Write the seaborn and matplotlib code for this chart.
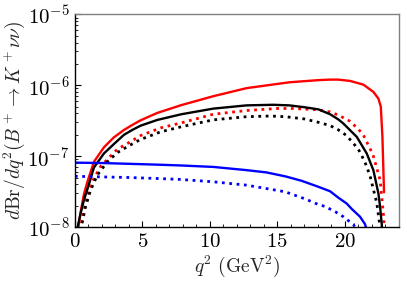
import matplotlib
matplotlib.use("Agg")
import matplotlib.pyplot as plt
from matplotlib.ticker import MultipleLocator
import seaborn as sns
import pandas as pd

# values (q^2 in GeV^2, dBr/dq^2)
red_q2 = [0.22, 0.42, 0.67, 0.92, 1.41, 2.15, 2.89, 3.64, 4.25, 4.87, 6.11, 7.9,
          10.26, 12.73, 15.9, 18.05, 18.92, 19.53, 20.4, 21.39, 22.13, 22.5,
          22.68, 22.8, 22.92]
red_br = [9e-9, 1.6e-8, 2.9e-8, 4.3e-8, 8.3e-8, 1.33e-7, 1.84e-7, 2.34e-7, 2.75e-7,
          3.2e-7, 4.07e-7, 5.25e-7, 7.0e-7, 9.1e-7, 1.1e-6, 1.18e-6, 1.2e-6,
          1.2e-6, 1.15e-6, 1.02e-6, 8.05e-7, 6.5e-7, 5.0e-7, 1.9e-7, 3.1e-8]

red_dot_q2 = [0.37, 0.92, 1.4, 1.9, 2.4, 3.14, 4.0, 4.87, 6.35, 7.9, 10.26, 12.73,
              15.0, 16.2, 18.05, 18.92, 19.53, 20.4, 21.02, 21.39, 22.0, 22.13,
              22.63, 22.87, 22.95]
red_dot_br = [9e-9, 2.8e-8, 4.8e-8, 7.1e-8, 9e-8, 1.25e-7, 1.55e-7, 1.95e-7, 2.5e-7,
              2.95e-7, 3.9e-7, 4.4e-7, 4.7e-7, 4.7e-7, 4.5e-7, 4.2e-7, 3.8e-7,
              3.1e-7, 2.4e-7, 1.98e-7, 1.15e-7, 1.0e-7, 4.6e-8, 1.55e-8, 9e-9]

black_q2 = [0.15, 0.42, 0.67, 1.04, 1.41, 2.15, 2.89, 3.64, 4.25, 4.87, 6.11, 7.9,
            10.26, 12.73, 14.71, 15.9, 17.0, 18.05, 18.92, 19.53, 19.9, 20.9,
            21.64, 22.13, 22.5, 22.63, 22.75, 22.78]
black_br = [9e-9, 1.55e-8, 2.4e-8, 4.0e-8, 6.9e-8, 1.09e-7, 1.48e-7, 2.0e-7,
            2.34e-7, 2.69e-7, 3.24e-7, 3.9e-7, 4.68e-7, 5.2e-7, 5.3e-7, 5.2e-7,
            4.9e-7, 4.57e-7, 3.9e-7, 3.3e-7, 2.89e-7, 1.87e-7, 1.09e-7, 6.35e-8,
            3.0e-8, 1.93e-8, 1.1e-8, 9e-9]

black_dot_q2 = [0.42, 0.79, 1.16, 1.66, 2.4, 3.14, 4.0, 4.87, 6.35, 7.9, 10.26,
                12.73, 14.5, 15.6, 17.0, 18.05, 18.92, 19.53, 20.15, 21.02, 21.5,
                21.88, 22.38, 22.66]
black_dot_br = [9e-9, 1.93e-8, 3.3e-8, 5.4e-8, 8.3e-8, 1.12e-7, 1.4e-7, 1.72e-7,
                2.2e-7, 2.6e-7, 3.25e-7, 3.6e-7, 3.68e-7, 3.6e-7, 3.35e-7, 3.0e-7,
                2.7e-7, 2.35e-7, 1.95e-7, 1.25e-7, 8.3e-8, 5.3e-8, 2.2e-8, 9e-9]

blue_q2 = [0.0, 2.0, 4.0, 6.0, 7.79, 10.26, 12.73, 14.2, 15.58, 16.8, 18.05, 18.92,
           19.53, 20.15, 20.53, 21.14, 21.51, 21.64]
blue_br = [8.1e-8, 8.0e-8, 7.8e-8, 7.6e-8, 7.4e-8, 7.05e-8, 6.35e-8, 5.9e-8, 5.2e-8,
           4.5e-8, 3.7e-8, 3.2e-8, 2.6e-8, 2.15e-8, 1.8e-8, 1.4e-8, 1.1e-8, 9e-9]

blue_dot_q2 = [0.0, 2.0, 4.0, 6.0, 7.79, 10.26, 12.73, 15.58, 17.06, 18.0, 18.55,
               19.3, 19.9, 20.4, 20.65, 20.85]
blue_dot_br = [5.2e-8, 5.1e-8, 5.0e-8, 4.85e-8, 4.7e-8, 4.35e-8, 3.9e-8, 3.15e-8,
               2.5e-8, 2.1e-8, 1.95e-8, 1.65e-8, 1.4e-8, 1.18e-8, 1.1e-8, 9e-9]

sns.set_style("ticks")
plt.rcParams["mathtext.fontset"] = "cm"
plt.rcParams["font.family"] = ["cmr10", "DejaVu Serif"]
plt.rcParams["axes.formatter.use_mathtext"] = True
plt.rcParams["axes.unicode_minus"] = False

fig = plt.figure(figsize=(4.07, 2.86), dpi=100)
ax = fig.add_axes([0.184, 0.206, 0.797, 0.744])

curves = [
    (red_q2, red_br, "#ff0000", "-"),
    (red_dot_q2, red_dot_br, "#ff0000", ":"),
    (black_q2, black_br, "black", "-"),
    (black_dot_q2, black_dot_br, "black", ":"),
    (blue_q2, blue_br, "#0000ff", "-"),
    (blue_dot_q2, blue_dot_br, "#0000ff", ":"),
]
for q2, br, col, ls in curves:
    df = pd.DataFrame({"q2": q2, "br": br})
    sns.lineplot(data=df, x="q2", y="br", ax=ax, color=col, linestyle=ls,
                 linewidth=2.0 if ls == ":" else 1.7, estimator=None, sort=False)

ax.set_yscale("log")
ax.set_xlim(0, 24.05)
ax.set_ylim(1e-8, 1e-5)
ax.xaxis.set_major_locator(MultipleLocator(5))
ax.xaxis.set_minor_locator(MultipleLocator(1))

ax.tick_params(which="both", direction="in", labelsize=15, colors="black")
ax.tick_params(which="major", length=4, width=0.8, pad=4)
ax.tick_params(which="minor", length=2.5, width=0.6)
for s in ["top", "right"]:
    ax.spines[s].set_color("gray")
    ax.spines[s].set_linewidth(1.0)
for s in ["left", "bottom"]:
    ax.spines[s].set_color("black")
    ax.spines[s].set_linewidth(1.0)

ax.set_xlabel(r"$q^2\ (\mathrm{GeV}^2)$", fontsize=14, labelpad=2)
ax.set_ylabel(r"$d\mathrm{Br}/dq^2(B^+\to K^+\nu\nu)$", fontsize=14, labelpad=0.5)

fig.savefig("out.png", dpi=100)
